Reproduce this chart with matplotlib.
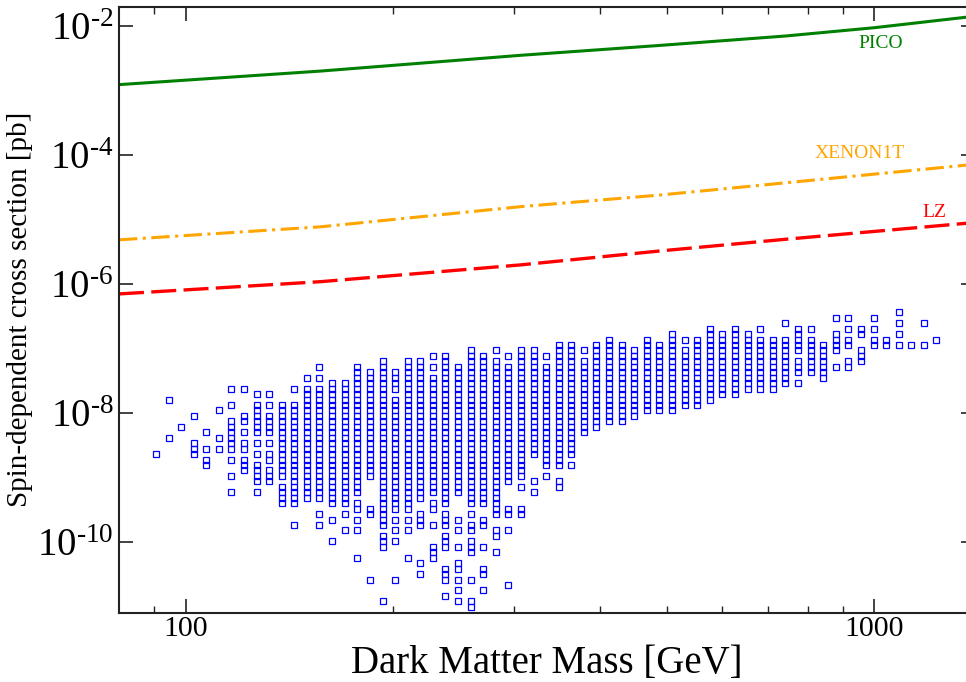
import matplotlib
matplotlib.use("Agg")
import matplotlib.pyplot as plt
from matplotlib.ticker import NullLocator, FixedLocator

plt.rcParams['font.family'] = ['Liberation Serif', 'DejaVu Serif']
plt.rcParams['mathtext.fontset'] = 'custom'
plt.rcParams['mathtext.rm'] = 'Liberation Serif'
plt.rcParams['mathtext.it'] = 'Liberation Serif:italic'
plt.rcParams['mathtext.bf'] = 'Liberation Serif:bold'

# ---------------- data ----------------
# Exclusion curves (mass in GeV, cross section in pb)
pico_mass = [80, 157, 306, 489, 743, 1000, 1360, 1400]
pico_xsec = [1.25e-3, 2.03e-3, 3.56e-3, 5.08e-3, 7.1e-3, 9.55e-3, 1.39e-2, 1.44e-2]

xenon_mass = [80, 157, 306, 489, 816, 1360, 1400]
xenon_xsec = [4.9e-6, 7.8e-6, 1.6e-5, 2.43e-5, 4.14e-5, 7.06e-5, 7.4e-5]

lz_mass = [80, 157, 306, 489, 743, 1360, 1400]
lz_xsec = [7.1e-7, 1.1e-6, 2.0e-6, 3.3e-6, 5.0e-6, 8.85e-6, 9.2e-6]

# Scan points lie on a grid: mass columns and cross-section rows
mass_columns = [90.5, 94.4, 98.4, 102.7, 107.1, 111.7, 116.5, 121.5, 126.7, 132.2,
                137.8, 143.8, 150.0, 156.4, 163.1, 170.1, 177.5, 185.1, 193.1, 201.4,
                210.0, 219.1, 228.5, 238.3, 248.5, 259.2, 270.4, 282.0, 294.1, 306.8,
                320.0, 333.7, 348.0, 363.0, 378.6, 394.9, 411.9, 429.6, 448.1, 467.3,
                487.4, 508.4, 530.3, 553.1, 576.8, 601.6, 627.5, 654.5, 682.6, 712.0,
                742.6, 774.5, 807.8, 842.6, 878.8, 916.6, 956.0, 997.1, 1040.0, 1084.7,
                1131.4, 1180.0, 1230.8]
# log10 of the cross section of grid row 0 and the row spacing (decades)
row0_log10_xsec = -6.602
row_step_dex = 0.0846
# occupied rows in each mass column ("a:b" = rows a..b)
rows_per_column = [
    "24", "14,21", "19", "17,22:24", "20,23,25,26", "16,21,23",
    "12,15,18:23,25,28,31", "12,17,18,20,22,23,25:27",
    "13,15:20,22,24,26:29,31", "13,15,17:20,22,24,25,27:29",
    "15:28,30:33", "12,15:33,37", "10,12:32", "8,10,12:32,35,37",
    "11:33,36,40", "11:33,35,38", "8:31,33,34,36,38,43", "9:28,34,35,47",
    "7:37,39:41,51", "9:12,14:34,36,38,40,47", "7:34,36,38,43",
    "7:32,35:37,44,46", "6,8,10:31,33,34,37,41:43",
    "6:33,35:37,39:41,45:47,50", "8:31,36,38,41,44,45,47,49,51",
    "5:33,35,37,38,40:42,47,51,52", "6:33,36,37,41,45,46,49",
    "5,7:35,38,39,42", "6,8:29,34,35,38,48", "5:28,30,34,35",
    "5:24,29,31", "6,8:26,28", "4:26,29,30", "4:24,26", "5,7:20",
    "4:19", "3:18", "4:18", "5:17", "3:16", "4:16", "2:16", "3,5:15",
    "3:15", "1:14", "2:13", "1:13", "2:12", "1,3:12", "3:12", "0,3:11",
    "1:5,7:9,11", "1,3:9", "4:10", "-1,2:5,8", "-1,1,3,4,7,8", "1,2,5:7",
    "-1,1,3,4", "3,4", "-2,0,2,4", "4", "0,4", "3",
]
y_tick_exponents = [-2, -4, -6, -8, -10]
x_tick_values = [100, 1000]

# ---------------- decode scan grid ----------------
scan_m, scan_s = [], []
for m, spec in zip(mass_columns, rows_per_column):
    for tok in spec.split(","):
        if ":" in tok:
            a, b = tok.split(":")
            rows = range(int(a), int(b) + 1)
        else:
            rows = [int(tok)]
        for r in rows:
            scan_m.append(m)
            scan_s.append(10 ** (row0_log10_xsec - row_step_dex * r))

# ---------------- figure ----------------
fig = plt.figure(figsize=(9.66, 6.82), dpi=100)
ax = fig.add_axes([119 / 966, 1 - 613 / 682, 856 / 966, 606 / 682])
ax.set_xscale('log')
ax.set_yscale('log')
ax.set_xlim(80, 1400)
ax.set_ylim(8e-12, 2e-2)

ax.plot(scan_m, scan_s, ls='none', marker='s', ms=4.3, mfc='none',
        mec='#0000ff', mew=0.9)

ax.plot(pico_mass, pico_xsec, color='#008000', lw=2.2, solid_capstyle='butt')
ax.plot(xenon_mass, xenon_xsec, color='#ffa500', lw=2.2,
        dashes=(6, 1.8, 1, 1.8))
ax.plot(lz_mass, lz_xsec, color='#ff0000', lw=2.4, dashes=(7.5, 2.2))

ax.text(948, 4.57e-3, 'PICO', color='#008000', fontsize=14, ha='left', va='baseline')
ax.text(820, 9.06e-5, 'XENON1T', color='#ffa500', fontsize=14, ha='left', va='baseline')
ax.text(1174, 1.11e-5, 'LZ', color='#ff0000', fontsize=14, ha='left', va='baseline')

# ticks
yt = [10.0 ** e for e in y_tick_exponents]
ylabels = [r'$\mathregular{10^{\text{-}%d}}$' % (-e) for e in y_tick_exponents]
ax.set_yticks(yt, ylabels)
ax.yaxis.set_minor_locator(NullLocator())
ax.set_xticks(x_tick_values, [str(v) for v in x_tick_values])
ax.xaxis.set_minor_locator(FixedLocator([90, 200, 300, 400, 500, 600, 700, 800, 900]))

ax.tick_params(which='both', direction='in', top=True, right=True, color='#222222')
ax.tick_params(which='major', length=10, width=1.2)
ax.tick_params(which='minor', length=5, width=1.0)
ax.tick_params(axis='y', which='major', labelsize=28, pad=4)
ax.tick_params(axis='x', which='major', labelsize=21.5, pad=2)
for sp in ax.spines.values():
    sp.set_linewidth(1.5)
    sp.set_color('#222222')

fig.text(547 / 966, 1 - 673 / 682, 'Dark Matter Mass [GeV]', fontsize=28,
         ha='center', va='baseline')
fig.text(20 / 966, 1 - 309 / 682, 'Spin-dependent cross section [pb]', fontsize=21,
         ha='center', va='center', rotation=90)

fig.savefig('out.png', dpi=100)
